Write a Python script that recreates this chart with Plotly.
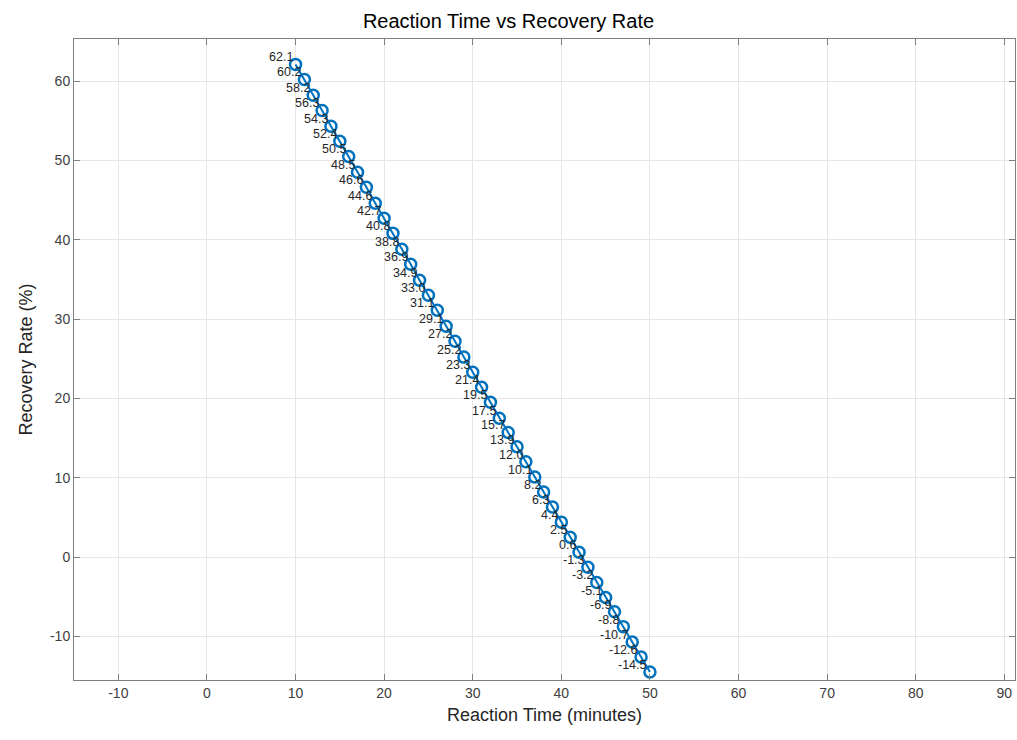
import plotly.graph_objects as go

reaction_time = list(range(10, 51))
recovery_rate = [62.1, 60.2, 58.2, 56.3, 54.3, 52.4, 50.5, 48.5, 46.6, 44.6,
                 42.7, 40.8, 38.8, 36.9, 34.9, 33.0, 31.1, 29.1, 27.2, 25.2,
                 23.3, 21.4, 19.5, 17.5, 15.7, 13.9, 12.0, 10.1, 8.2, 6.3,
                 4.4, 2.5, 0.6, -1.3, -3.2, -5.1, -6.9, -8.8, -10.7, -12.6,
                 -14.5]
labels = [f"{v:.1f}" for v in recovery_rate]

x_ticks = list(range(-10, 100, 10))
y_ticks = list(range(-10, 70, 10))

font_family = "Liberation Sans, Arial, sans-serif"

fig = go.Figure()
fig.add_trace(go.Scatter(
    x=reaction_time, y=recovery_rate,
    mode="lines+markers",
    line=dict(color="#0072BD", width=2),
    marker=dict(symbol="circle-open", size=11, color="#0072BD", line=dict(width=2.5, color="#0072BD")),
    showlegend=False,
))
for xv, yv, t in zip(reaction_time, recovery_rate, labels):
    fig.add_annotation(x=xv, y=yv, text=t, showarrow=False,
                       xanchor="right", yanchor="bottom", xshift=-1, yshift=-2,
                       font=dict(family=font_family, size=12.5, color="#262626"))

axis_common = dict(
    showgrid=True, gridcolor="#E6E6E6", gridwidth=1,
    showline=True, linecolor="#7F7F7F", linewidth=1, mirror="ticks",
    ticks="inside", ticklen=6, tickcolor="#7F7F7F",
    zeroline=False, automargin=False,
    tickfont=dict(family=font_family, size=14, color="#404040"),
)

fig.update_layout(
    width=1017, height=740,
    margin=dict(l=74, r=2, t=39, b=60),
    paper_bgcolor="white", plot_bgcolor="white",
    title=dict(text="Reaction Time vs Recovery Rate", x=0.5, xanchor="center",
               y=0.972, yanchor="middle", automargin=False,
               font=dict(family=font_family, size=20, color="#000000")),
    xaxis=dict(range=[-15, 91.2], tickvals=x_ticks, ticktext=[str(v) for v in x_ticks],
               title=dict(text="Reaction Time (minutes)", standoff=8,
                          font=dict(family=font_family, size=18, color="#262626")),
               **axis_common),
    yaxis=dict(range=[-15.5, 65.3], tickvals=y_ticks, ticktext=[str(v) for v in y_ticks],
               title=dict(text="Recovery Rate (%)", standoff=12,
                          font=dict(family=font_family, size=18, color="#262626")),
               **axis_common),
)

fig.write_html(
    "out.html",
    config={"displayModeBar": False},
    post_script="document.body.style.margin='0';document.body.style.overflow='hidden';",
)
